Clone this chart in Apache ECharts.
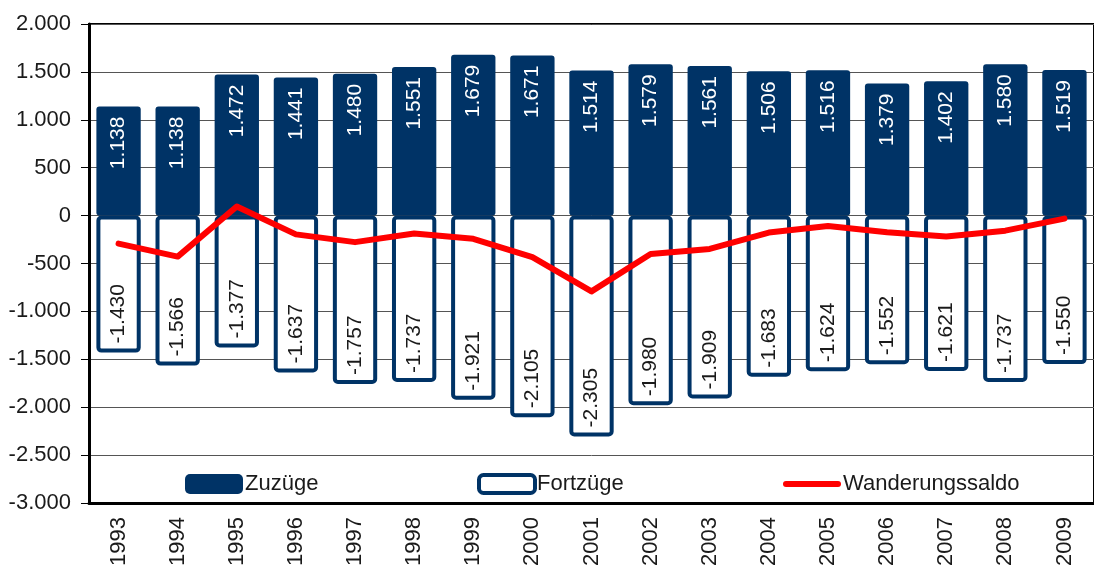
<!DOCTYPE html>
<html>
<head>
<meta charset="utf-8">
<script src="https://cdn.jsdelivr.net/npm/echarts@6/dist/echarts.min.js"></script>
<style>
  html, body { margin: 0; padding: 0; background: #fff; }
  #chart { width: 1094px; height: 572px; }
</style>
</head>
<body>
<div id="chart"></div>
<script>
var years = ['1993', '1994', '1995', '1996', '1997', '1998', '1999', '2000', '2001',
  '2002', '2003', '2004', '2005', '2006', '2007', '2008', '2009'];
var zuzuege = [1138, 1138, 1472, 1441, 1480, 1551, 1679, 1671, 1514, 1579, 1561, 1506, 1516, 1379, 1402, 1580, 1519];
var fortzuege = [-1430, -1566, -1377, -1637, -1757, -1737, -1921, -2105, -2305, -1980, -1909, -1683, -1624, -1552, -1621, -1737, -1550];
var saldo = [-292, -428, 95, -196, -277, -186, -242, -434, -791, -401, -348, -177, -108, -173, -219, -157, -31];
var yTicks = { min: -3000, max: 2000, step: 500 };

var navy = '#003366';
var font = "'Liberation Sans Narrow', 'Arial Narrow', 'Liberation Sans', sans-serif";

// 1234 -> "1.234"
function de (v) {
  var s = String(Math.abs(v)).replace(/\B(?=(\d{3})+(?!\d))/g, '.');
  return (v < 0 ? '-' : '') + s;
}

var legendText = { fontFamily: font, fontSize: 22, color: '#1a1a1a', padding: [0, 0, 0, -3] };

var chart = echarts.init(document.getElementById('chart'));

var option = {
  backgroundColor: '#fff',
  animation: false,
  textStyle: { fontFamily: font },
  grid: {
    left: 89, top: 24, right: 0, bottom: 69,
    show: true, borderColor: '#000', borderWidth: 2
  },
  legend: [
    {
      data: ['Zuzüge'], left: 180, top: 468,
      itemWidth: 58, itemHeight: 20,
      icon: 'roundRect',
      textStyle: legendText
    },
    {
      data: ['Fortzüge'], left: 472, top: 468,
      itemWidth: 56, itemHeight: 18,
      icon: 'roundRect',
      itemStyle: { borderWidth: 4, borderColor: navy, color: '#fff' },
      textStyle: legendText
    },
    {
      data: ['Wanderungssaldo'], left: 778, top: 468,
      itemWidth: 58, itemHeight: 20,
      icon: 'path://M3,0 L55,0 A3,3 0 0 1 55,6 L3,6 A3,3 0 0 1 3,0 Z',
      itemStyle: { color: '#ff0000' },
      textStyle: legendText
    }
  ],
  xAxis: {
    type: 'category',
    data: years,
    axisLine: { onZero: false, lineStyle: { color: '#000', width: 3 } },
    axisTick: { show: false },
    axisLabel: {
      rotate: 90, margin: 14, fontSize: 22, color: '#1a1a1a', fontFamily: font
    },
    splitLine: { show: false }
  },
  yAxis: {
    type: 'value',
    min: yTicks.min, max: yTicks.max, interval: yTicks.step,
    axisLine: { show: true, lineStyle: { color: '#000', width: 3 } },
    axisTick: { show: true, length: 8, lineStyle: { color: '#000', width: 1 } },
    axisLabel: {
      margin: 18, fontSize: 22, color: '#1a1a1a', fontFamily: font,
      formatter: function (v) { return de(v); }
    },
    splitLine: { show: true, lineStyle: { color: '#555', width: 1 } }
  },
  series: [
    {
      name: 'Zuzüge',
      type: 'bar',
      data: zuzuege,
      barWidth: '75%',
      barGap: '-100%',
      itemStyle: { color: navy, borderRadius: 3 },
      label: {
        show: true,
        position: 'insideTop',
        distance: 10,
        rotate: 90,
        align: 'right',
        verticalAlign: 'middle',
        color: '#fff',
        fontSize: 21,
        fontFamily: font,
        formatter: function (p) { return de(p.value); }
      }
    },
    {
      name: 'Fortzüge',
      type: 'bar',
      data: fortzuege,
      barWidth: '75%',
      itemStyle: { color: '#fff', borderColor: navy, borderWidth: 4, borderRadius: 3 },
      label: {
        show: true,
        position: 'insideBottom',
        distance: 9,
        rotate: 90,
        align: 'left',
        verticalAlign: 'middle',
        color: '#1a1a1a',
        fontSize: 21,
        fontFamily: font,
        formatter: function (p) { return de(p.value); }
      }
    },
    {
      name: 'Wanderungssaldo',
      type: 'line',
      data: saldo,
      smooth: false,
      showSymbol: false,
      symbol: 'none',
      z: 5,
      lineStyle: { color: '#ff0000', width: 6, cap: 'round', join: 'round' },
      itemStyle: { color: '#ff0000' }
    }
  ]
};

chart.setOption(option);
window.addEventListener('resize', function () {
  chart.resize();
});
</script>
</body>
</html>
